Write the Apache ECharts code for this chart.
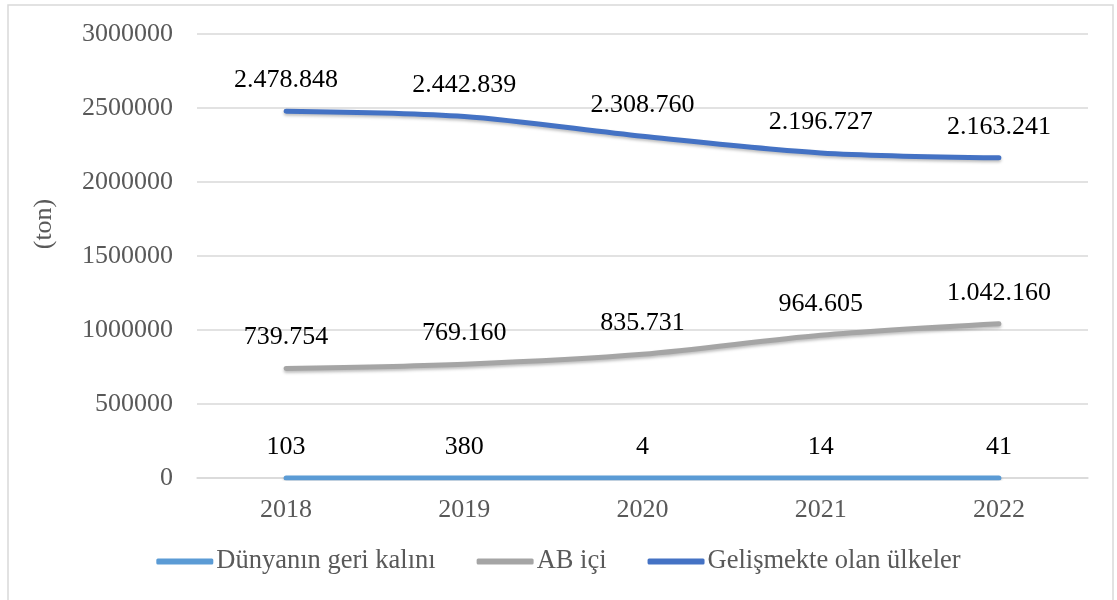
<!DOCTYPE html>
<html>
<head>
<meta charset="utf-8">
<script src="https://cdn.jsdelivr.net/npm/echarts@6/dist/echarts.min.js"></script>
<style>
  html, body { margin: 0; padding: 0; background: #fff; }
  #chart { width: 1117px; height: 600px; }
</style>
</head>
<body>
<div id="chart"></div>
<script>
const years = ['2018', '2019', '2020', '2021', '2022'];
const dunya = [103, 380, 4, 14, 41];
const abIci = [739754, 769160, 835731, 964605, 1042160];
const gelismekte = [2478848, 2442839, 2308760, 2196727, 2163241];
const seriesNames = ['Dünyanın geri kalını', 'AB içi', 'Gelişmekte olan ülkeler'];
const colors = ['#5B9BD5', '#A5A5A5', '#4472C4'];

const font = "Liberation Serif";

// 2478848 -> 2.478.848
const fmt = v => String(v).replace(/\B(?=(\d{3})+(?!\d))/g, '.');

const makeSeries = (name, data, color) => ({
  name: name,
  type: 'line',
  data: data,
  smooth: 0.3,
  symbol: 'circle',
  symbolSize: 0,
  showSymbol: true,
  lineStyle: {
    color: color,
    width: 5,
    cap: 'round',
    shadowColor: 'rgba(0,0,0,0.25)',
    shadowBlur: 3,
    shadowOffsetY: 2,
  },
  itemStyle: { color: color },
  label: {
    show: true,
    position: 'top',
    distance: 18,
    color: '#000',
    fontFamily: font,
    fontSize: 26,
    formatter: p => fmt(p.value),
  },
});

const chart = echarts.init(document.getElementById('chart'));
chart.setOption({
  animation: false,
  backgroundColor: '#fff',
  textStyle: { fontFamily: font },
  graphic: [{
    type: 'rect',
    shape: { x: 8, y: 5, width: 1105, height: 600 },
    style: { fill: 'none', stroke: '#D9D9D9', lineWidth: 1.5 },
    z: -1,
  }],
  grid: { left: 197, right: 29, top: 34, bottom: 122 },
  legend: {
    bottom: 20,
    left: 'center',
    data: seriesNames,
    icon: 'roundRect',
    itemWidth: 57,
    itemHeight: 6,
    itemGap: 41,
    textStyle: { fontFamily: font, fontSize: 26.5, color: '#595959', padding: [0, 0, 0, -2] },
  },
  xAxis: {
    type: 'category',
    data: years,
    boundaryGap: true,
    axisLine: { lineStyle: { color: '#D9D9D9', width: 1.5 } },
    axisTick: { show: false },
    axisLabel: { fontFamily: font, fontSize: 26, color: '#595959', margin: 19 },
  },
  yAxis: {
    type: 'value',
    min: 0,
    max: 3000000,
    interval: 500000,
    name: '(ton)',
    nameLocation: 'middle',
    nameGap: 140,
    nameRotate: 90,
    nameTextStyle: { fontFamily: font, fontSize: 26, color: '#595959', padding: [0, 0, 0, 64] },
    axisLine: { show: false },
    axisTick: { show: false },
    splitLine: { lineStyle: { color: '#D9D9D9', width: 1.5 } },
    axisLabel: { fontFamily: font, fontSize: 26, color: '#595959', margin: 24, formatter: v => String(v) },
  },
  series: [
    makeSeries(seriesNames[0], dunya, colors[0]),
    makeSeries(seriesNames[1], abIci, colors[1]),
    makeSeries(seriesNames[2], gelismekte, colors[2]),
  ],
});
</script>
</body>
</html>
